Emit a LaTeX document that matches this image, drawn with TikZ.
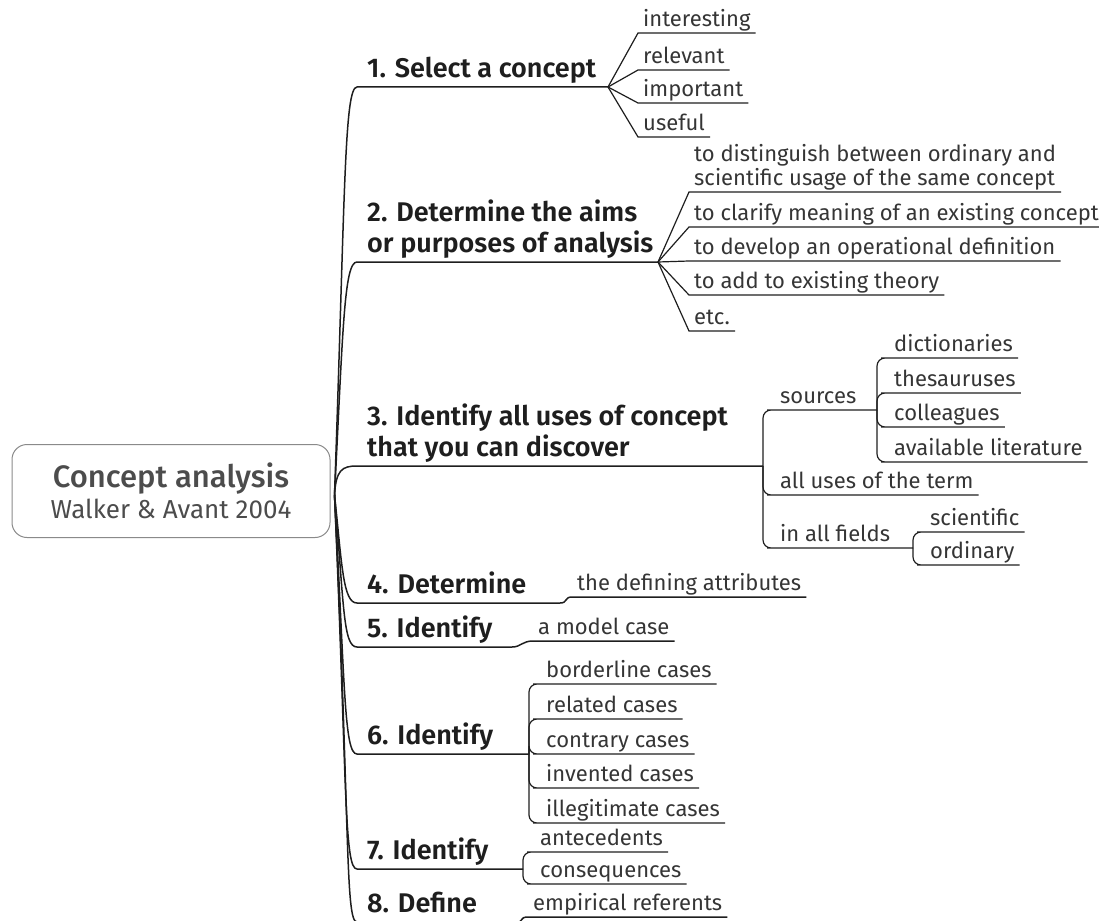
\documentclass[tikz,border=0pt]{standalone}
\usepackage{fontspec}
\setmainfont{Fira Sans}[BoldFont={Fira Sans SemiBold}]
\newfontfamily\medfont{Fira Sans Medium}
\usetikzlibrary{positioning,calc}
\definecolor{mapink}{HTML}{1E1E1E}
\definecolor{mapgray}{HTML}{4C4C4C}
\definecolor{boxgray}{HTML}{8A8A8A}

\begin{document}
\begin{tikzpicture}[x=1pt, y=-1pt,
  centre/.style={draw=boxgray, line width=1pt, rounded corners=15pt, minimum width=318pt, minimum height=93pt, align=center, text=mapgray, font=\fontsize{26}{31}\selectfont},
  topic/.style={anchor=south west, inner xsep=10pt, inner ysep=2pt, text depth=7pt, align=left, text=mapink, font=\fontsize{27}{31}\selectfont\bfseries},
  leaf/.style={anchor=south west, inner xsep=5pt, inner ysep=1pt, text depth=5pt, align=left, text=mapink!90, font=\fontsize{22}{24}\selectfont},
  branch/.style={draw=mapink, line width=1.5pt},
  twig/.style={draw=mapink, line width=1.2pt},
  bracket/.style={twig, rounded corners=8pt}
]
\useasboundingbox (0,0) rectangle (1099,920);
\node[centre] (ca) at (171,491) {{\medfont\fontsize{31}{31}\selectfont Concept analysis}\\Walker \& Avant 2004};
\coordinate (hub) at ([xshift=4pt, yshift=-4pt]ca.east);

\node[topic] (s1) at (357,87) {1. Select a concept};
\node[topic] (s2) at (357,262) {2. Determine the aims\\or purposes of analysis};
\node[topic] (s3) at (357,466) {3. Identify all uses of concept\\that you can discover};
\node[topic] (s4) at (357,603) {4. Determine};
\node[topic] (s5) at (357,647) {5. Identify};
\node[topic] (s6) at (357,754) {6. Identify};
\node[topic] (s7) at (357,869) {7. Identify};
\node[topic] (s8) at (357,922) {8. Define};

\coordinate (j1) at (608,87);
\coordinate (j2) at (658,262);
\coordinate (j3) at (763,466);
\coordinate (j3a) at (877,410);
\coordinate (j3c) at (913,548);
\coordinate (j4) at (560,603);
\coordinate (j5) at (512,647);
\coordinate (j6) at (529,754);
\coordinate (j7) at (523,869);
\coordinate (j8) at (517,922);

\node[leaf] (l4) at (572,597) {the defining attributes};
\node[leaf] (l5) at (533,641) {a model case};
\node[leaf] (l8) at (528,917) {empirical referents};

\draw[branch] (hub) .. controls (345,200) and (344,87) .. (s1.south west) -- (j1);
\draw[branch] (hub) .. controls (343,330) and (344,262) .. (s2.south west) -- (j2);
\draw[branch] (hub) .. controls (336,470) and (342,466) .. (s3.south west) -- (j3);
\draw[branch] (hub) .. controls (342,565) and (343,603) .. (s4.south west) -- (j4)
  .. controls (568,603) and (564,597) .. (l4.south west) -- (l4.south east);
\draw[branch] (hub) .. controls (344,605) and (343,647) .. (s5.south west) -- (j5)
  .. controls (521,647) and (522,641) .. (l5.south west) -- (l5.south east);
\draw[branch] (hub) .. controls (345,685) and (344,754) .. (s6.south west) -- (j6);
\draw[branch] (hub) .. controls (347,785) and (344,869) .. (s7.south west) -- (j7);
\draw[branch] (hub) .. controls (350,825) and (345,922) .. (s8.south west) -- (j8)
  .. controls (524,922) and (519,917) .. (l8.south west) -- (l8.south east);

\foreach \nm/\yy/\txt in {a1/33/interesting, a2/70/relevant, a3/103/important, a4/137/useful} {
  \node[leaf] (\nm) at (638,\yy) {\txt};
  \draw[twig] (j1) -- (\nm.south west) -- (\nm.south east);
}

\foreach \nm/\yy/\txt in {b1/192/{to distinguish between ordinary and\\scientific usage of the same concept},
    b2/227/to clarify meaning of an existing concept, b3/261/to develop an operational definition,
    b4/295/to add to existing theory, b5/331/etc.} {
  \node[leaf] (\nm) at (689,\yy) {\txt};
  \draw[twig] (j2) -- (\nm.south west) -- (\nm.south east);
}

\node[leaf] (src) at (775,410) {sources};
\node[leaf] (all) at (775,495) {all uses of the term};
\node[leaf] (fld) at (775,548) {in all fields};
\draw[bracket] (j3) |- (src.south west) -- (j3a);
\draw[bracket] (j3) |- (all.south west) -- (all.south east);
\draw[bracket] (j3) |- (fld.south west) -- (j3c);

\foreach \nm/\yy/\txt in {c1/358/dictionaries, c2/393/thesauruses, c3/427/colleagues, c4/462/available literature} {
  \node[leaf] (\nm) at (889,\yy) {\txt};
  \draw[bracket] (j3a) |- (\nm.south west) -- (\nm.south east);
}
\foreach \nm/\yy/\txt in {d1/532/scientific, d2/565/ordinary} {
  \node[leaf] (\nm) at (925,\yy) {\txt};
  \draw[bracket] (j3c) |- (\nm.south west) -- (\nm.south east);
}
\foreach \nm/\yy/\txt in {e1/684/borderline cases, e2/719/related cases, e3/754/contrary cases, e4/788/invented cases, e5/823/illegitimate cases} {
  \node[leaf] (\nm) at (541,\yy) {\txt};
  \draw[bracket] (j6) |- (\nm.south west) -- (\nm.south east);
}
\foreach \nm/\yy/\txt in {f1/852/antecedents, f2/884/consequences} {
  \node[leaf] (\nm) at (535,\yy) {\txt};
  \draw[bracket] (j7) |- (\nm.south west) -- (\nm.south east);
}
\end{tikzpicture}
\end{document}
